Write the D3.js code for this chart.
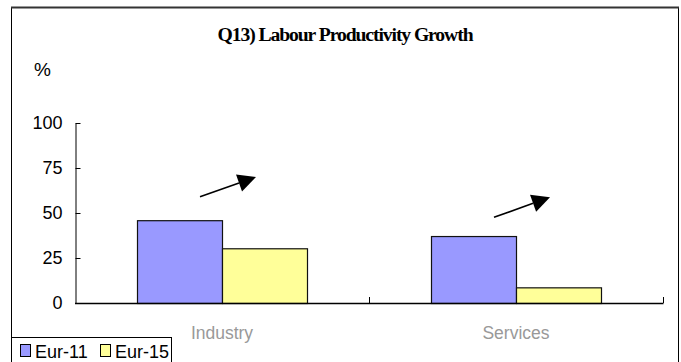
<!DOCTYPE html>
<html>
<head>
<meta charset="utf-8">
<script src="https://cdn.jsdelivr.net/npm/d3@7"></script>
<style>
  html, body { margin: 0; padding: 0; background: #fff; }
  svg { display: block; }
</style>
</head>
<body>
<svg id="chart" width="681" height="362"></svg>
<script>
// Chart data
const categories = ["Industry", "Services"];
const seriesNames = ["Eur-11", "Eur-15"];
const eur11 = [46, 37.2];
const eur15 = [30.4, 8.7];
const yTicks = [0, 25, 50, 75, 100];
const seriesColors = ["#9999FF", "#FFFF99"];
// Trend arrows drawn above each category (values in % units)
const arrowFrom = [59, 47.6];
const arrowTo = [70, 58.8];

const svg = d3.select("#chart");

// Outer frame
svg.append("rect")
  .attr("x", 11.5).attr("y", 7.5)
  .attr("width", 667).attr("height", 400)
  .attr("fill", "#fff").attr("stroke", "#000").attr("stroke-width", 1);
svg.append("line")
  .attr("x1", 11).attr("x2", 679).attr("y1", 7.5).attr("y2", 7.5)
  .attr("stroke", "#333").attr("stroke-width", 2);

// Title
svg.append("text")
  .attr("x", 345).attr("y", 41)
  .attr("text-anchor", "middle")
  .attr("font-family", "'Liberation Serif', 'Times New Roman', serif")
  .attr("font-weight", "bold")
  .attr("font-size", 18)
  .attr("letter-spacing", -1)
  .attr("textLength", 255)
  .attr("lengthAdjust", "spacingAndGlyphs")
  .text("Q13) Labour Productivity Growth");

const font = "'Liberation Sans', Arial, sans-serif";

// Unit label
svg.append("text")
  .attr("x", 34).attr("y", 76)
  .attr("font-family", font)
  .attr("font-size", 19)
  .text("%");

// Scales
const x = d3.scaleBand().domain(categories).range([75, 663]).padding(0);
const groupW = 170;
const xInner = d3.scaleBand().domain(seriesNames)
  .range([(x.bandwidth() - groupW) / 2, (x.bandwidth() + groupW) / 2]).padding(0);
const y = d3.scaleLinear().domain([0, 100]).range([303, 123]);

// Y axis (ticks point inward)
const yAxis = svg.append("g").attr("transform", "translate(75.5,0)")
  .call(d3.axisRight(y).tickValues(yTicks).tickSize(5).tickSizeOuter(0).tickFormat(d3.format("d")));
yAxis.select(".domain").attr("stroke", "#000");
yAxis.selectAll(".tick line").attr("stroke", "#000");
yAxis.selectAll(".tick text")
  .attr("x", -13).attr("text-anchor", "end")
  .attr("font-family", font).attr("font-size", 18).attr("fill", "#000");

// Bars
const rows = categories.map((c, i) => ({ cat: c, vals: [eur11[i], eur15[i]] }));
const groups = svg.append("g").selectAll("g").data(rows).join("g")
  .attr("transform", d => `translate(${x(d.cat)},0)`);
groups.selectAll("rect")
  .data(d => d.vals.map((v, j) => ({ name: seriesNames[j], v, j })))
  .join("rect")
  .attr("x", d => xInner(d.name) + 0.5)
  .attr("y", d => y(d.v) + 0.5)
  .attr("width", xInner.bandwidth())
  .attr("height", d => y(0) - y(d.v))
  .attr("fill", d => seriesColors[d.j])
  .attr("stroke", "#111").attr("stroke-width", 1.2);

// X axis with category boundary ticks pointing up
svg.append("line")
  .attr("x1", 75).attr("x2", 663.5).attr("y1", y(0) + 0.5).attr("y2", y(0) + 0.5)
  .attr("stroke", "#000").attr("stroke-width", 1.3);
const bounds = categories.map(c => x(c) + x.bandwidth());
svg.append("g").selectAll("line").data(bounds).join("line")
  .attr("x1", d => d + 0.5).attr("x2", d => d + 0.5)
  .attr("y1", y(0)).attr("y2", y(0) - 6)
  .attr("stroke", "#000");

// Category labels
svg.append("g").selectAll("text").data(categories).join("text")
  .attr("x", d => x(d) + x.bandwidth() / 2)
  .attr("y", 339)
  .attr("text-anchor", "middle")
  .attr("font-family", font).attr("font-size", 17.5)
  .attr("fill", "#999")
  .text(d => d);

// Trend arrows
const arrows = categories.map((c, i) => ({ cat: c, from: arrowFrom[i], to: arrowTo[i] }));
arrows.forEach(a => {
  const cx = x(a.cat) + x.bandwidth() / 2;
  const x0 = cx - 22, y0 = y(a.from);
  const x1 = cx + 34, y1 = y(a.to);
  const ang = Math.atan2(y1 - y0, x1 - x0);
  const len = 18, half = 9;
  const bx = x1 - len * Math.cos(ang), by = y1 - len * Math.sin(ang);
  const px = -Math.sin(ang) * half, py = Math.cos(ang) * half;
  svg.append("line")
    .attr("x1", x0).attr("y1", y0).attr("x2", bx).attr("y2", by)
    .attr("stroke", "#000").attr("stroke-width", 1.6);
  svg.append("path")
    .attr("d", `M${x1},${y1}L${bx + px},${by + py}L${bx - px},${by - py}Z`)
    .attr("fill", "#000");
});

// Legend
const leg = svg.append("g");
leg.append("rect")
  .attr("x", 11.5).attr("y", 337.5).attr("width", 160).attr("height", 40)
  .attr("fill", "#fff").attr("stroke", "#000");
const legX = [20, 100];
seriesNames.forEach((n, i) => {
  leg.append("rect")
    .attr("x", legX[i] + 0.5).attr("y", 344.5).attr("width", 10).attr("height", 12)
    .attr("fill", seriesColors[i]).attr("stroke", "#000");
  leg.append("text")
    .attr("x", legX[i] + 15).attr("y", 358)
    .attr("font-family", font).attr("font-size", 18)
    .text(n);
});
</script>
</body>
</html>
